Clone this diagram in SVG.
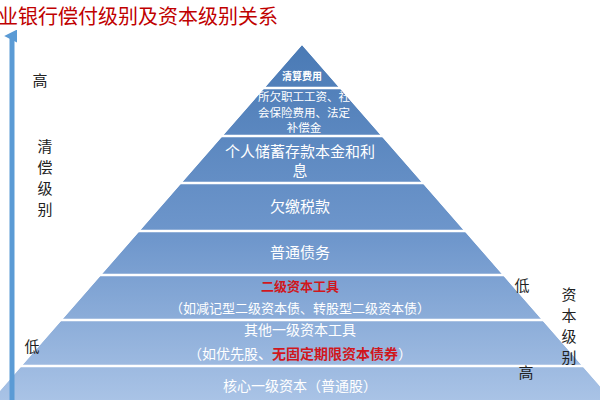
<svg xmlns="http://www.w3.org/2000/svg" width="600" height="400" viewBox="0 0 600 400">
<defs>
<linearGradient id="g" x1="0" y1="45" x2="0" y2="400" gradientUnits="userSpaceOnUse">
<stop offset="0" stop-color="#4a7ab5"/><stop offset="0.55" stop-color="#6f97cc"/><stop offset="1" stop-color="#a9c3e6"/>
</linearGradient>
<marker id="ah" viewBox="0 0 10 10" refX="5" refY="6" markerWidth="2.6" markerHeight="2.6" orient="auto-start-reverse"><path d="M0,10 L5,0 L10,10 z" fill="#5b9bd5"/></marker>
</defs>
<style>
.w{font-family:"Noto Sans CJK SC","Liberation Serif",serif;fill:#fff;text-anchor:middle}
.k{font-family:"Noto Sans CJK SC",serif;fill:#222;text-anchor:middle;font-size:15px}
.r{fill:#d0171d}
line.d{stroke:#fff;stroke-width:2.5}
</style>
<rect width="600" height="400" fill="#fff"/>
<g id="pyramid">
<polygon points="302,45 -8,400 612,400" fill="url(#g)"/>
<line class="d" x1="0" y1="88" x2="600" y2="88"/>
<line class="d" x1="0" y1="136" x2="600" y2="136"/>
<line class="d" x1="0" y1="183" x2="600" y2="183"/>
<line class="d" x1="0" y1="231" x2="600" y2="231"/>
<line class="d" x1="0" y1="275" x2="600" y2="275"/>
<line class="d" x1="0" y1="320" x2="600" y2="320"/>
<line class="d" x1="0" y1="366" x2="600" y2="366"/>
<polygon points="302,45 -8,400 -8,0 612,0 612,400" fill="#fff"/>
</g>
<text x="-2" y="24" font-family="Noto Sans CJK SC,serif" font-size="20" fill="#c00000">业银行偿付级别及资本级别关系</text>
<g id="axis-left"><line x1="12" y1="400" x2="12" y2="36" stroke="#5b9bd5" stroke-width="5" marker-end="url(#ah)"/></g>
<g id="n1"><text class="w" x="302" y="80" font-size="10" font-weight="bold">清算费用</text></g>
<g id="n2"><text class="w" font-size="11.5"><tspan x="304" y="101">所欠职工工资、社</tspan><tspan x="304" y="116.5">会保险费用、法定</tspan><tspan x="304" y="132">补偿金</tspan></text></g>
<g id="n3"><text class="w" font-size="15"><tspan x="300" y="157">个人储蓄存款本金和利</tspan><tspan x="300" y="176">息</tspan></text></g>
<g id="n4"><text class="w" x="300" y="212" font-size="15">欠缴税款</text></g>
<g id="n5"><text class="w" x="300" y="258" font-size="15">普通债务</text></g>
<g id="n6"><text class="w" font-size="13"><tspan x="300" y="291" class="r" font-weight="bold">二级资本工具</tspan><tspan x="300" y="313">（如减记型二级资本债、转股型二级资本债）</tspan></text></g>
<g id="n7"><text class="w" font-size="14"><tspan x="300" y="335">其他一级资本工具</tspan><tspan x="300" y="359">（如优先股、<tspan class="r" font-weight="bold">无固定期限资本债券</tspan>）</tspan></text></g>
<g id="n8"><text class="w" x="300" y="391" font-size="14">核心一级资本（普通股）</text></g>
<g id="labels">
<text class="k" x="40" y="86">高</text>
<text class="k" x="45" y="152">清</text><text class="k" x="45" y="173">偿</text><text class="k" x="45" y="194">级</text><text class="k" x="45" y="215">别</text>
<text class="k" x="32" y="352">低</text>
<text class="k" x="522" y="291">低</text>
<text class="k" x="569" y="300">资</text><text class="k" x="569" y="321">本</text><text class="k" x="569" y="342">级</text><text class="k" x="569" y="363">别</text>
<text class="k" x="526" y="378">高</text>
</g>
</svg>
